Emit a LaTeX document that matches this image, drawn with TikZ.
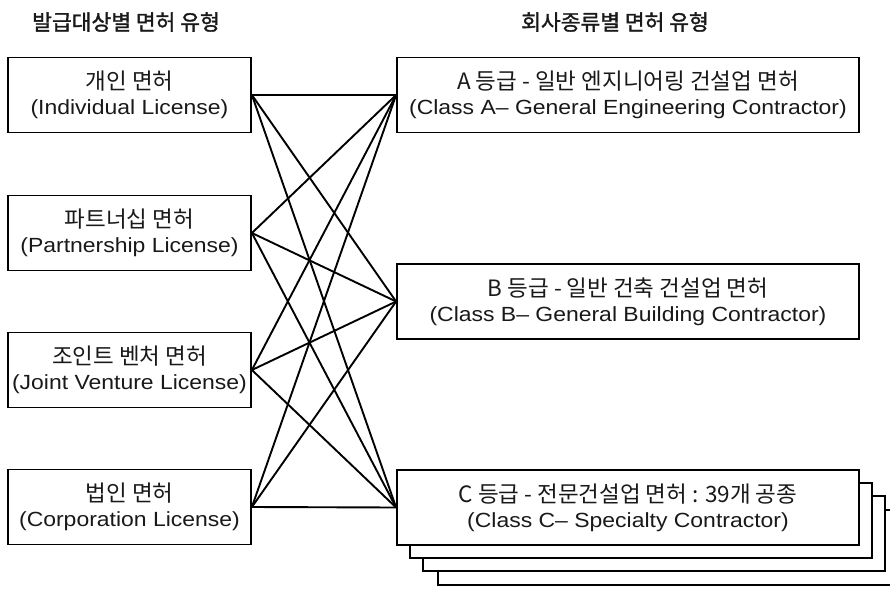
\documentclass[tikz,border=0pt]{standalone}
\usepackage{fontspec}
\setmainfont{Liberation Sans}[FakeStretch=1.12]
\newfontfamily\kr{Noto Sans CJK KR}
\newfontfamily\krt{Noto Sans CJK KR}[FakeBold=1.5]
\begin{document}
\begin{tikzpicture}[x=1pt,y=-1pt,
  box/.style={draw, line width=1.8pt, fill=white, minimum width=243pt, minimum height=75pt,
    align=center, inner sep=0pt, text=black!90, font=\fontsize{20.5}{25}\selectfont},
  rbox/.style={box, minimum width=462pt},
  conn/.style={line width=1.9pt},
  ttl/.style={font=\krt\fontsize{21.5}{24}\selectfont, text=black!90}]
\useasboundingbox (0,0) rectangle (890,588);
\newcommand\kl[1]{{\kr\fontsize{22.5}{25}\selectfont #1}}
\node[ttl] (t1) at (126,22) {발급대상별 면허 유형};
\node[ttl] (t2) at (615,22) {회사종류별 면허 유형};
% left boxes
\node[box] (L1) at (129.5,95) {\kl{개인 면허}\\(Individual License)};
\node[box] (L2) at (129.5,233) {\kl{파트너십 면허}\\(Partnership License)};
\node[box] (L3) at (129.5,370) {\kl{조인트 벤처 면허}\\(Joint Venture License)};
\node[box] (L4) at (129.5,507) {\kl{법인 면허}\\(Corporation License)};
% right boxes
\node[rbox] (RA) at (628,95) {\kl{A 등급 - 일반 엔지니어링 건설업 면허}\\(Class A– General Engineering Contractor)};
\node[rbox] (RB) at (628,301.5) {\kl{B 등급 - 일반 건축 건설업 면허}\\(Class B– General Building Contractor)};
\node[rbox] (C3) at (669,547.5) {};
\node[rbox] (C2) at (654,533.5) {};
\node[rbox] (C1) at (641,520.5) {};
\node[rbox] (RC) at (628,507.5) {\kl{C 등급 - 전문건설업 면허 : 39개 공종}\\(Class C– Specialty Contractor)};
% connectors
\foreach \l in {L1,L2,L3,L4}
  \foreach \r in {RA,RB,RC}
    \draw[conn] (\l.east) -- (\r.west);
\end{tikzpicture}
\end{document}
